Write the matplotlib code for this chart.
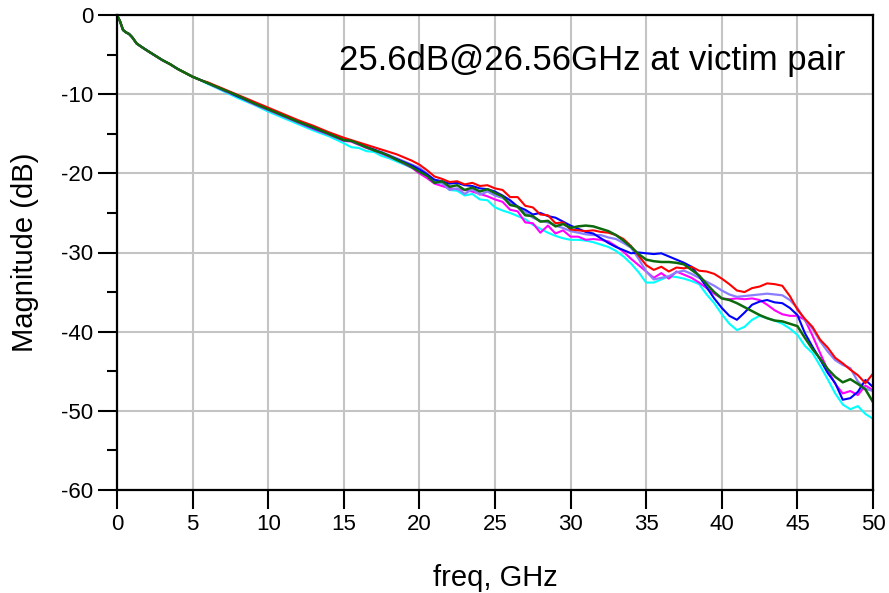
import numpy as np
import matplotlib
matplotlib.use("Agg")
from matplotlib import pyplot as plt
from matplotlib.ticker import MultipleLocator

plt.rcParams['font.family'] = ['Liberation Sans', 'DejaVu Sans']
plt.rcParams['axes.unicode_minus'] = False

# frequency grids (GHz)
f_low = [0, 0.2, 0.4, 0.6, 0.8, 1.0, 1.3, 1.6, 2.0, 2.5, 3.0, 3.5, 4.0, 4.5, 5.0, 5.5]
f_mid = [6, 7, 8, 9, 10, 11, 12, 13, 14, 15]
f_high = list(np.arange(15.5, 50.01, 0.5))

# shared trace below 6 GHz (all curves overlap)
low_trace = [0, -0.8, -1.9, -2.2, -2.4, -2.8, -3.6, -4.0, -4.5, -5.1, -5.7, -6.2, -6.8, -7.3, -7.8, -8.2]

red_mid = [-8.5, -9.3, -10.1, -10.9, -11.7, -12.5, -13.3, -14.0, -14.8, -15.5]
red_high = [-15.8, -16.1, -16.4, -16.7, -17.0, -17.3, -17.6, -18.0, -18.4, -18.9,
            -19.6, -20.4, -20.7, -21.1, -21.0, -21.4, -21.2, -21.6, -21.5, -21.9,
            -22.1, -23.0, -23.0, -24.1, -24.3, -25.2, -25.3, -26.3, -26.2, -27.1,
            -27.2, -27.3, -27.2, -27.4, -27.5, -27.8, -28.3, -29.2, -30.4, -31.6,
            -32.2, -31.8, -32.4, -31.9, -32.0, -31.8, -32.3, -32.4, -32.7, -33.3,
            -34.0, -34.8, -35.0, -34.5, -34.3, -33.9, -34.0, -34.2, -35.5, -37.2,
            -38.4, -39.4, -41.0, -42.0, -43.3, -44.0, -44.8, -45.5, -46.5, -45.3]

blue_mid = [-8.6, -9.4, -10.3, -11.1, -11.9, -12.7, -13.5, -14.3, -15.0, -15.8]
blue_high = [-15.9, -16.3, -16.7, -17.0, -17.4, -17.8, -18.2, -18.6, -19.0, -19.5,
             -20.1, -20.8, -21.0, -21.3, -21.2, -21.5, -21.6, -21.9, -22.0, -22.3,
             -22.8, -23.4, -24.2, -24.6, -25.2, -25.0, -25.4, -25.6, -26.1, -26.6,
             -27.0, -27.4, -27.6, -28.2, -28.8, -29.3, -29.7, -30.1, -30.0, -30.1,
             -30.2, -30.1, -30.5, -30.9, -31.3, -31.8, -33.0, -34.4, -35.8, -37.0,
             -38.0, -38.5, -37.6, -36.6, -36.2, -36.0, -36.3, -36.4, -37.0, -37.9,
             -40.2, -41.9, -43.5, -45.2, -46.5, -48.6, -48.4, -47.6, -46.1, -47.0]

magenta_mid = [-8.6, -9.5, -10.3, -11.2, -12.0, -12.8, -13.6, -14.4, -15.1, -15.9]
magenta_high = [-16.0, -16.4, -16.8, -17.1, -17.5, -17.9, -18.3, -18.8, -19.3, -20.0,
                -20.6, -21.3, -21.6, -21.9, -22.0, -22.1, -22.3, -22.6, -22.9, -23.3,
                -23.6, -24.6, -24.8, -26.2, -26.3, -27.5, -26.6, -27.6, -27.2, -28.0,
                -28.0, -28.4, -28.3, -28.4, -28.6, -29.2, -29.9, -30.8, -31.6, -32.4,
                -33.2, -32.6, -33.3, -32.4, -32.8, -33.2, -33.8, -34.5, -35.2, -35.8,
                -35.9, -35.8, -35.9, -35.8, -36.0, -36.6, -37.3, -37.8, -38.0, -38.0,
                -38.5, -40.5, -42.7, -44.8, -46.6, -47.8, -47.5, -48.0, -46.8, -47.4]

purple_mid = [-8.6, -9.4, -10.3, -11.1, -11.9, -12.7, -13.5, -14.3, -15.0, -15.8]
purple_high = [-15.9, -16.3, -16.6, -17.0, -17.3, -17.7, -18.1, -18.5, -18.9, -19.3,
               -20.0, -21.1, -21.2, -22.1, -21.9, -22.6, -22.0, -22.7, -22.3, -22.8,
               -23.1, -23.7, -24.3, -24.9, -25.6, -26.0, -26.2, -26.6, -26.9, -27.3,
               -27.5, -27.7, -27.8, -27.8, -28.1, -28.3, -28.8, -29.4, -30.8, -32.4,
               -33.4, -33.2, -33.0, -32.5, -32.3, -32.7, -33.2, -33.7, -34.2, -34.8,
               -35.3, -35.6, -35.5, -35.4, -35.3, -35.2, -35.3, -35.4, -36.0, -37.0,
               -38.6, -39.6, -41.2, -42.5, -43.6, -44.2, -44.6, -46.3, -47.2, -47.5]

green_mid = [-8.6, -9.4, -10.2, -11.1, -11.9, -12.7, -13.5, -14.2, -15.0, -15.8]
green_high = [-15.9, -16.3, -16.7, -17.1, -17.4, -17.8, -18.3, -18.7, -19.2, -19.8,
              -20.3, -21.2, -21.0, -21.7, -21.5, -22.1, -21.8, -22.3, -22.0, -22.5,
              -22.9, -24.0, -24.2, -25.3, -25.4, -26.1, -26.0, -26.7, -26.4, -26.9,
              -26.7, -26.6, -26.7, -27.0, -27.3, -27.8, -28.5, -29.3, -30.2, -30.9,
              -31.1, -31.2, -31.2, -31.3, -31.5, -32.2, -32.9, -34.0, -35.0, -35.8,
              -36.0, -36.4, -36.9, -37.4, -37.9, -38.3, -38.6, -38.7, -39.0, -39.3,
              -40.8, -42.2, -43.4, -44.7, -45.7, -46.4, -46.0, -46.6, -47.3, -48.9]

cyan_mid = [-8.7, -9.6, -10.5, -11.3, -12.2, -13.0, -13.8, -14.6, -15.3, -16.2]
cyan_high = [-16.7, -16.8, -17.2, -17.3, -17.8, -18.1, -18.5, -18.9, -19.3, -19.8,
             -20.2, -21.0, -21.3, -22.1, -22.2, -22.8, -22.6, -23.3, -23.4, -24.3,
             -24.7, -25.0, -25.4, -25.8, -26.5, -27.0, -27.5, -27.9, -28.2, -28.4,
             -28.4, -28.5, -28.7, -29.0, -29.3, -29.8, -30.5, -31.4, -32.5, -33.8,
             -33.8, -33.4, -33.0, -33.1, -33.3, -33.6, -34.0, -35.3, -36.4, -37.8,
             -39.0, -39.8, -39.4, -38.5, -38.0, -38.3, -38.6, -39.0, -39.6, -40.4,
             -41.8, -42.7, -44.3, -46.0, -47.8, -49.2, -49.8, -49.4, -50.4, -51.0]

freq = f_low + f_mid + f_high
curves = [
    (cyan_mid, cyan_high, '#00ffff', 1.5),
    (magenta_mid, magenta_high, '#ff00ff', 1.5),
    (purple_mid, purple_high, '#8a7dff', 1.6),
    (blue_mid, blue_high, '#0000ff', 1.5),
    (red_mid, red_high, '#ff0000', 1.5),
    (green_mid, green_high, '#0d6b0d', 1.8),
]

fig = plt.figure(figsize=(8.89, 5.93), dpi=100)
ax = fig.add_axes([117 / 889, 1 - 490 / 593, 756 / 889, 475 / 593])

for mid, high, col, lw in curves:
    ax.plot(freq, low_trace + mid + high, color=col, lw=lw)

ax.set_xlim(0, 50)
ax.set_ylim(-60, 0)
ax.xaxis.set_major_locator(MultipleLocator(5))
ax.yaxis.set_major_locator(MultipleLocator(10))
ax.yaxis.set_minor_locator(MultipleLocator(5))
ax.grid(True, which='major', color='#c4c4c4', lw=1.5)
ax.set_axisbelow(True)

ax.tick_params(axis='both', which='major', direction='out', length=14, width=1.5,
               labelsize=16, pad=3)
ax.tick_params(axis='y', which='minor', direction='out', length=7, width=1.5)
for s in ax.spines.values():
    s.set_linewidth(1.6)
    s.set_color('black')

ax.set_xlabel('freq, GHz', fontsize=21)
ax.set_ylabel('Magnitude (dB)', fontsize=21, va='center')
ax.xaxis.set_label_coords(0.5, -0.155)
ax.yaxis.set_label_coords(-0.122, 0.5)

ax.text(0.2937, 0.884, '25.6dB@26.56GHz at victim pair', transform=ax.transAxes,
        fontsize=25, ha='left', va='baseline')

fig.savefig('out.png', dpi=100)
